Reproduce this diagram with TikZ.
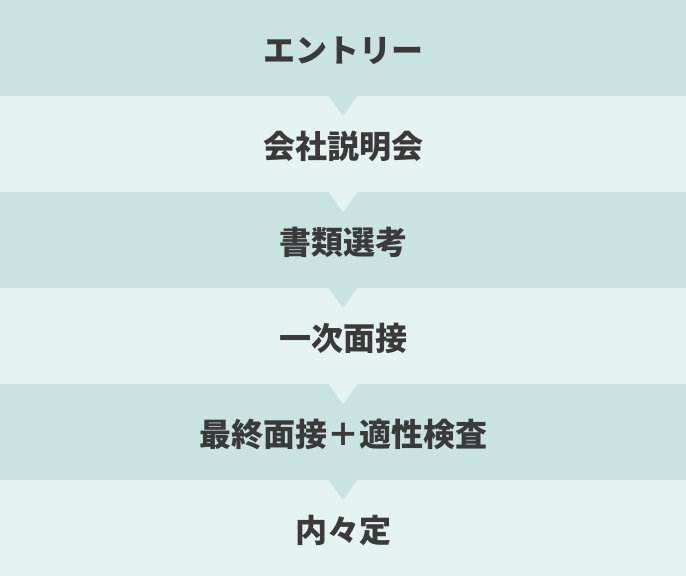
\documentclass[tikz,border=0pt]{standalone}
\usepackage{fontspec}
\usepackage{xcolor}
\usepackage{tikz}
\usetikzlibrary{calc}
\newfontfamily\jpfont{Noto Sans CJK JP}
\definecolor{banddark}{HTML}{C8E3E0}
\definecolor{bandlight}{HTML}{E4F3F0}
\definecolor{steptext}{HTML}{3A3A3A}

\begin{document}
\begin{tikzpicture}[x=1bp, y=1bp,
		band/.style={rectangle, draw=none, minimum width=686bp, minimum height=96bp, inner sep=0pt,
			text height=32bp, text depth=2bp,
			text=steptext, font=\jpfont\bfseries\fontsize{32bp}{38bp}\selectfont},
		dark/.style={band, fill=banddark},
		light/.style={band, fill=bandlight}]
				\useasboundingbox (0,0) rectangle (686,576);
				\node[dark] (entry) at (343,528){エントリー};
				\node[light] (setsumei) at (343,432){会社説明会};
				\node[dark] (shorui) at (343,336){書類選考};
				\node[light] (ichiji) at (343,240){一次面接};
				\node[dark] (saishu) at (343,144){最終面接＋適性検査};
				\node[light] (naitei) at (343,48){内々定};
				% arrows below each step
				\fill[banddark] ($(entry.south)+(-14,0)$) -- ($(entry.south)+(14,0)$) -- ($(entry.south)+(0,-20)$) -- cycle;
				\fill[bandlight] ($(setsumei.south)+(-14,0)$) -- ($(setsumei.south)+(14,0)$) -- ($(setsumei.south)+(0,-20)$) -- cycle;
				\fill[banddark] ($(shorui.south)+(-14,0)$) -- ($(shorui.south)+(14,0)$) -- ($(shorui.south)+(0,-20)$) -- cycle;
				\fill[bandlight] ($(ichiji.south)+(-14,0)$) -- ($(ichiji.south)+(14,0)$) -- ($(ichiji.south)+(0,-20)$) -- cycle;
				\fill[banddark] ($(saishu.south)+(-14,0)$) -- ($(saishu.south)+(14,0)$) -- ($(saishu.south)+(0,-20)$) -- cycle;
		\end{tikzpicture}
\end{document}
